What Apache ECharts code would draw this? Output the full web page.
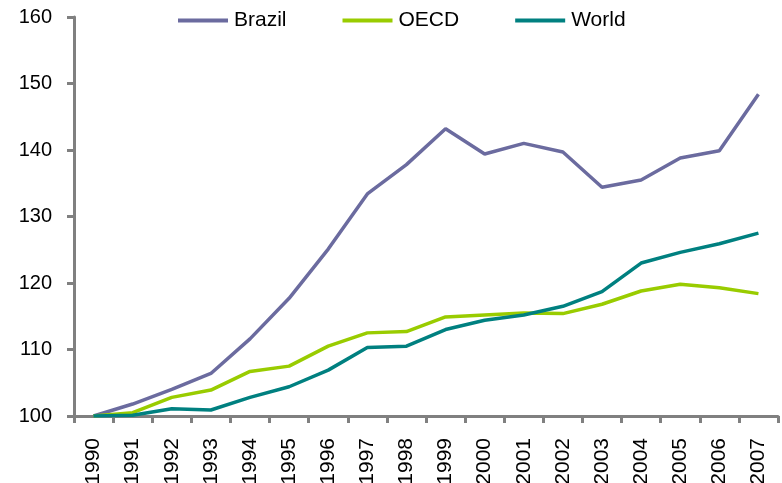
<!DOCTYPE html>
<html>
<head>
<meta charset="utf-8">
<script src="https://cdn.jsdelivr.net/npm/echarts@6/dist/echarts.min.js"></script>
<style>
html, body { margin: 0; padding: 0; background: #fff; }
#main { width: 782px; height: 483px; }
</style>
</head>
<body>
<div id="main"></div>
<script>
// years on the x axis
const years = ['1990', '1991', '1992', '1993', '1994', '1995', '1996', '1997', '1998',
    '1999', '2000', '2001', '2002', '2003', '2004', '2005', '2006', '2007'];

// index, 1990 = 100
const brazil = [100, 101.8, 104.0, 106.4, 111.6, 117.7, 125.1, 133.4, 137.8,
    143.2, 139.4, 141.0, 139.7, 134.4, 135.5, 138.8, 139.9, 148.4];
const oecd = [100, 100.5, 102.8, 103.9, 106.7, 107.5, 110.5, 112.5, 112.7,
    114.9, 115.2, 115.5, 115.4, 116.8, 118.8, 119.8, 119.3, 118.4];
const world = [100, 100.1, 101.1, 100.9, 102.8, 104.4, 106.9, 110.3, 110.5,
    113.0, 114.4, 115.2, 116.5, 118.7, 123.0, 124.6, 125.9, 127.5];

const axisGray = '#808080';
const font = 'Liberation Sans, Arial, sans-serif';

let chart = echarts.init(document.getElementById('main'));
chart.setOption({
    animation: false,
    textStyle: { fontFamily: font },
    grid: {
        left: 74,
        right: 4,
        top: 17,
        bottom: 67,
        containLabel: false,
        outerBoundsMode: 'none'
    },
    legend: {
        top: 10,
        left: 178,
        padding: 0,
        icon: 'rect',
        itemWidth: 50,
        itemHeight: 4,
        itemGap: 56,
        textStyle: { fontSize: 21, color: '#000', fontFamily: font, padding: [0, 0, 0, 1] },
        data: ['Brazil', 'OECD', 'World']
    },
    xAxis: {
        type: 'category',
        data: years,
        boundaryGap: true,
        axisLine: { lineStyle: { color: axisGray, width: 3 } },
        axisTick: { show: true, length: 7, lineStyle: { color: axisGray, width: 3 } },
        axisLabel: {
            rotate: 90,
            interval: 0,
            margin: 22,
            fontSize: 21,
            color: '#000',
            fontFamily: font
        },
        splitLine: { show: false }
    },
    yAxis: {
        type: 'value',
        min: 100,
        max: 160,
        interval: 10,
        axisLine: { show: true, lineStyle: { color: axisGray, width: 3 } },
        axisTick: { show: true, length: 7, lineStyle: { color: axisGray, width: 3 } },
        axisLabel: { margin: 22, fontSize: 20, color: '#000', fontFamily: font },
        splitLine: { show: false }
    },
    series: [
        {
            name: 'Brazil',
            type: 'line',
            showSymbol: false,
            symbol: 'none',
            lineStyle: { width: 3.5, color: '#6B6B9F' },
            itemStyle: { color: '#6B6B9F' },
            data: brazil
        },
        {
            name: 'OECD',
            type: 'line',
            showSymbol: false,
            symbol: 'none',
            lineStyle: { width: 3.5, color: '#99CC00' },
            itemStyle: { color: '#99CC00' },
            data: oecd
        },
        {
            name: 'World',
            type: 'line',
            showSymbol: false,
            symbol: 'none',
            lineStyle: { width: 3.5, color: '#008080' },
            itemStyle: { color: '#008080' },
            data: world
        }
    ]
});
</script>
</body>
</html>
